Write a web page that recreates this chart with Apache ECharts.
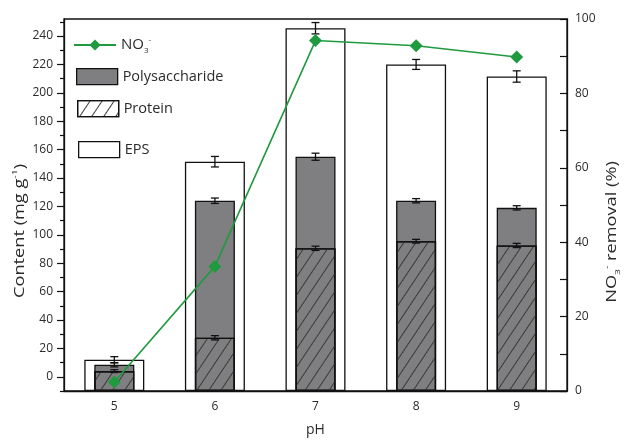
<!DOCTYPE html>
<html>
<head>
<meta charset="utf-8">
<script src="https://cdn.jsdelivr.net/npm/echarts@6/dist/echarts.min.js"></script>
<style>html,body{margin:0;padding:0;background:#fff}#c{width:630px;height:440px}</style>
</head>
<body>
<div id="c"></div>
<script>
// ---- data ----
const pH = ['5', '6', '7', '8', '9'];
const eps = [12, 151.5, 245.5, 220, 211.5];
const epsErr = [2.2, 3.7, 4, 3.5, 4];
const polysaccharide = [8.5, 124, 155, 124, 119];
const polyErr = [1.5, 1.9, 2.5, 1.5, 1.5];
const protein = [4, 27.5, 90.5, 95.5, 92.5];
const proteinErr = [1, 1.5, 1.5, 1.3, 1.5];
const no3Removal = [2.4, 33.5, 94.2, 92.8, 89.8];
const leftTicks = [0, 20, 40, 60, 80, 100, 120, 140, 160, 180, 200, 220, 240];
const leftMinorTicks = [-10, 10, 30, 50, 70, 90, 110, 130, 150, 170, 190, 210, 230, 250];
const rightTicks = [0, 20, 40, 60, 80, 100];

// left axis: bars in this figure rise from the bottom of the axis (-10),
// so the axis works in shifted units (value + BASE)
const LEFT_MIN = -10, LEFT_MAX = 252;
const BASE = -LEFT_MIN;
const sh = v => v + BASE;

const FONT = 'Open Sans';
const TXT = '#2b2b2b';
const GREEN = '#1f9a3f';

const chart = echarts.init(document.getElementById('c'), null, {renderer: 'canvas'});

function errSeries(name, vals, errs, z) {
  return {
    name: name, type: 'custom', xAxisIndex: 0, yAxisIndex: 0, z: z, silent: true,
    data: vals.map((v, i) => [i, sh(v), errs[i]]),
    renderItem: function (params, api) {
      const x = api.value(0), y = api.value(1), e = api.value(2);
      const t = api.coord([x, y + e]), b = api.coord([x, y - e]);
      const hw = 4;
      const st = {stroke: '#111', lineWidth: 1.3};
      return {type: 'group', children: [
        {type: 'line', shape: {x1: t[0], y1: t[1], x2: b[0], y2: b[1]}, style: st},
        {type: 'line', shape: {x1: t[0] - hw, y1: t[1], x2: t[0] + hw, y2: t[1]}, style: st},
        {type: 'line', shape: {x1: b[0] - hw, y1: b[1], x2: b[0] + hw, y2: b[1]}, style: st}
      ]};
    }
  };
}

const legendBase = {
  orient: 'vertical', itemWidth: 41, itemHeight: 16, itemGap: 10, selectedMode: false, padding: 0,
  icon: 'rect', itemStyle: {borderColor: '#111', borderWidth: 1.3},
  textStyle: {fontFamily: FONT, fontSize: 14.5, color: TXT}
};

const subSup = {
  sub: {fontSize: 8, fontFamily: FONT, color: TXT, padding: [12, 0, 0, 0]},
  sup: {fontSize: 8, fontFamily: FONT, color: TXT, padding: [0, 0, 10, 0]}
};

const option = {
  animation: false,
  backgroundColor: '#fff',
  textStyle: {fontFamily: FONT},
  grid: {left: 64, right: 63, top: 19, bottom: 49, outerBoundsMode: 'none', containLabel: false,
         show: true, borderColor: '#111', borderWidth: 1.3, backgroundColor: 'transparent'},
  legend: [
    {orient: 'vertical', itemWidth: 42, itemHeight: 14, selectedMode: false, padding: 0,
     data: ['NO3'], left: 73, top: 36,
     formatter: () => 'NO{sub|3}{sup|-}',
     textStyle: {fontFamily: FONT, fontSize: 15, color: TXT, rich: subSup}},
    Object.assign({}, legendBase, {data: ['Polysaccharide'], left: 76, top: 68}),
    Object.assign({}, legendBase, {data: ['Protein'], left: 77, top: 100}),
    Object.assign({}, legendBase, {data: ['EPS'], left: 78, top: 141})
  ],
  graphic: [
    {type: 'text', x: 20, y: 231, rotation: Math.PI / 2, scaleX: 1.3, z: 10,
     style: {text: 'Content (mg g{sup|-1})', fontFamily: FONT, fontSize: 14, fill: TXT,
       align: 'center', verticalAlign: 'middle', rich: subSup}},
    {type: 'text', x: 612, y: 232, rotation: Math.PI / 2, scaleX: 1.3, z: 10,
     style: {text: 'NO{sub|3}{sup|-} removal (%)', fontFamily: FONT, fontSize: 14, fill: TXT,
       align: 'center', verticalAlign: 'middle', rich: subSup}}
  ],
  xAxis: [
    {type: 'category', data: pH, gridIndex: 0, boundaryGap: true,
     name: 'pH', nameLocation: 'middle', nameGap: 32,
     nameTextStyle: {fontFamily: FONT, fontSize: 14, color: TXT},
     axisLine: {show: true, lineStyle: {color: '#111', width: 1.3}},
     axisTick: {show: false},
     axisLabel: {fontFamily: FONT, fontSize: 12, color: TXT, margin: 10},
     splitLine: {show: false}},
    {type: 'category', data: pH, gridIndex: 0, show: false}
  ],
  yAxis: [
    {type: 'value', position: 'left', min: sh(LEFT_MIN), max: sh(LEFT_MAX),
     axisLine: {show: true, lineStyle: {color: '#111', width: 1.3}},
     axisTick: {show: true, inside: false, length: 7, customValues: leftTicks.map(sh), lineStyle: {color: '#111', width: 1.2}},
     axisLabel: {fontFamily: FONT, fontSize: 12, color: TXT, margin: 11, customValues: leftTicks.map(sh),
       formatter: v => String(Math.round(v - BASE))},
     splitLine: {show: false}},
    {type: 'value', position: 'right', min: 0, max: 100, interval: 10,
     axisLine: {show: true, lineStyle: {color: '#111', width: 1.3}},
     axisTick: {show: true, inside: true, length: 7, lineStyle: {color: '#111', width: 1.2}},
     axisLabel: {fontFamily: FONT, fontSize: 12, color: TXT, margin: 8, customValues: rightTicks},
     splitLine: {show: false}},
    {type: 'value', position: 'left', min: sh(LEFT_MIN), max: sh(LEFT_MAX),
     axisLine: {show: false},
     axisTick: {show: true, inside: false, length: 4, customValues: leftMinorTicks.map(sh), lineStyle: {color: '#111', width: 1.2}},
     axisLabel: {show: false},
     splitLine: {show: false}}
  ],
  series: [
    {name: 'EPS', type: 'bar', xAxisIndex: 0, yAxisIndex: 0, barWidth: 60, z: 1,
     data: eps.map(sh),
     itemStyle: {color: '#ffffff', borderColor: '#111', borderWidth: 1.3}},
    {name: 'Polysaccharide', type: 'bar', xAxisIndex: 1, yAxisIndex: 0, barWidth: 40, barGap: '-100%', z: 2,
     data: polysaccharide.map(sh),
     itemStyle: {color: '#7f7f81', borderColor: '#111', borderWidth: 1.3}},
    {name: 'Protein', type: 'bar', xAxisIndex: 1, yAxisIndex: 0, barWidth: 40, barGap: '-100%', z: 3,
     data: protein.map(sh),
     itemStyle: {color: 'rgba(255,255,255,0)', borderColor: '#111', borderWidth: 1.3,
       decal: {symbol: 'rect', symbolSize: 1, dashArrayX: [1, 0], dashArrayY: [0.8, 8.2], rotation: -Math.PI / 3.2, color: '#3a3a3a'}}},
    errSeries('epsErr', eps, epsErr, 4),
    errSeries('polyErr', polysaccharide, polyErr, 4),
    errSeries('proteinErr', protein, proteinErr, 4),
    {name: 'NO3', type: 'line', xAxisIndex: 0, yAxisIndex: 1, z: 5,
     data: no3Removal, symbol: 'diamond', symbolSize: 13,
     lineStyle: {color: GREEN, width: 1.6}, itemStyle: {color: GREEN}}
  ]
};
chart.setOption(option);
</script>
</body>
</html>
